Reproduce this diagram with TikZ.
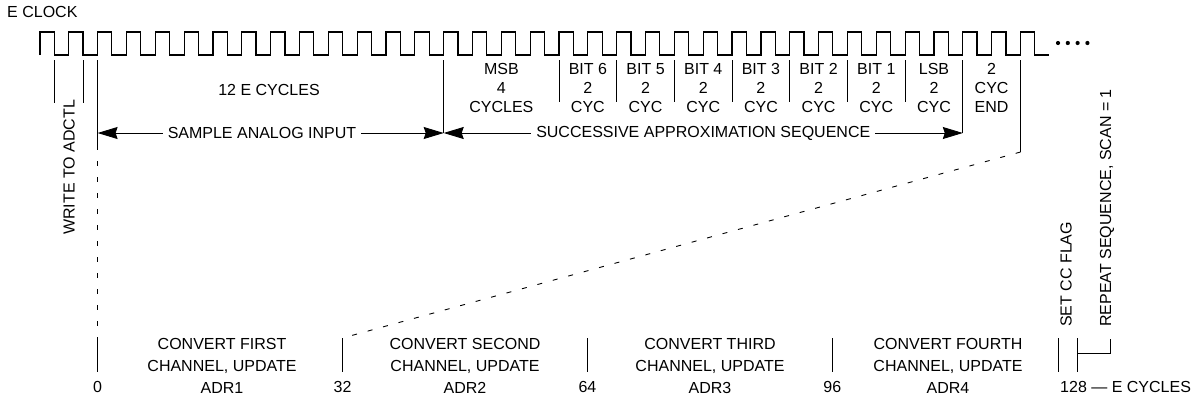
\documentclass[tikz,border=0pt]{standalone}
\usepackage{fontspec}
\setmainfont{Liberation Sans}
\usetikzlibrary{positioning, arrows.meta, calc}
\tikzset{
  clockline/.style ={line width=1.2pt, line join=miter},
  tick/.style      ={line width=0.9pt},
  guide/.style     ={line width=0.9pt, dash pattern=on 5pt off 11pt},
  dimarrow/.style  ={line width=0.9pt,
                     {Stealth[length=20pt, width=12pt, inset=2pt]}-{Stealth[length=20pt, width=12pt, inset=2pt]}},
  lbl/.style       ={align=center, inner sep=0pt, font=\fontsize{16}{19}\selectfont},
  botlbl/.style    ={align=center, inner sep=0pt, font=\fontsize{16}{22}\selectfont},
  sidelbl/.style   ={rotate=90, anchor=west, inner sep=0pt, font=\fontsize{16}{19}\selectfont},
  gapfill/.style   ={fill=white, inner xsep=5pt, inner ysep=2pt, font=\fontsize{16}{19}\selectfont},
}
\newcommand{\cycbody}[3]{#1\\#2\\#3}

\begin{document}
\begin{tikzpicture}[x=1pt, y=-1pt]
  \useasboundingbox (0,0) rectangle (1198,400);

  % ============================================================
  % E CLOCK waveform (35 pulses + continuation dots)
  % ============================================================
  \node[lbl, anchor=west] (eclk) at (7,12) {E CLOCK};
  \coordinate (clk0) at (39.9,55);
  \draw[clockline] (clk0)
    \foreach \k in {0,...,34} {-- ++(0,-23) -- ++(14.3,0) -- ++(0,23) -- ++(14.54,0)};
  \foreach \d in {0,...,3} \fill (1058+9.8*\d,43) circle (2.1pt);

  % --- write to ADCTL ---
  \coordinate (w1t) at (54.3,60);
  \coordinate (w1b) at (54.3,103);
  \coordinate (w2t) at (83.3,60);
  \coordinate (w2b) at (83.3,103);
  \draw[tick] (w1t) -- (w1b);
  \draw[tick] (w2t) -- (w2b);
  \node[sidelbl] (wadctl) at (69,235) {WRITE TO ADCTL};

  % ============================================================
  % MARKERS under the clock
  % ============================================================
  \coordinate (s0t)  at (97.6,60);
  \coordinate (samp) at (97.6,133);
  \coordinate (s0m)  at (97.6,145);
  \coordinate (c0t)  at (97.6,337);
  \coordinate (c0b)  at (97.6,372);
  \coordinate (msbt) at (443.7,60);
  \coordinate (msbb) at (443.7,133);
  \coordinate (lsbt) at (962.8,60);
  \coordinate (lsbb) at (962.8,133);
  \coordinate (endt) at (1020.5,60);
  \coordinate (endb) at (1020.5,152);

  \draw[tick]  (s0t) -- (s0m);
  \draw[guide] (s0m) -- (c0t);
  \draw[tick]  (c0t) -- (c0b);
  \draw[tick]  (msbt) -- (msbb);
  \draw[tick]  (lsbt) -- (lsbb);
  \draw[tick]  (endt) -- (endb);

  \node[lbl] (cyc12) at (269,90) {12 E CYCLES};
  \node[lbl] (msb) at (501.4,88) {\cycbody{MSB}{4}{CYCLES}};
  \foreach \bname [count=\i from 0] in {BIT 6, BIT 5, BIT 4, BIT 3, BIT 2, BIT 1, LSB} {
    \pgfmathsetmacro{\xa}{97.6+(16+2*\i)*28.84}
    \coordinate (sept\i) at (\xa,60);
    \coordinate (sepb\i) at (\xa,102);
    \draw[tick] (sept\i) -- (sepb\i);
    \node[lbl] (bit\i) at (\xa+28.84,88) {\cycbody{\bname}{2}{CYC}};
  }
  \node[lbl] (endl) at (991.6,88) {\cycbody{2}{CYC}{END}};

  \draw[dimarrow] (samp) -- node[gapfill, pos=0.475] (sampl) {SAMPLE ANALOG INPUT} (msbb);
  \draw[dimarrow] (msbb) -- node[gapfill] (sarl) {SUCCESSIVE APPROXIMATION SEQUENCE} (lsbb);

  % ============================================================
  % BOTTOM SCALE (E cycles 0 ... 128)
  % ============================================================
  \node[lbl] (num0) at (97.6,387) {0};
  \foreach \n/\cnt in {1/32, 2/64, 3/96} {
    \coordinate (ct\n) at (97.6+\n*244.9,338);
    \coordinate (cb\n) at (97.6+\n*244.9,372);
    \draw[tick] (ct\n) -- (cb\n);
    \node[lbl] (num\n) at (97.6+\n*244.9,387) {\cnt};
  }
  \draw[guide] (endb) -- (ct1);

  \node[botlbl] (conv1) at (222,366) {CONVERT FIRST\\CHANNEL, UPDATE\\ADR1};
  \node[botlbl] (conv2) at (465,366) {CONVERT SECOND\\CHANNEL, UPDATE\\ADR2};
  \node[botlbl] (conv3) at (710,366) {CONVERT THIRD\\CHANNEL, UPDATE\\ADR3};
  \node[botlbl] (conv4) at (948,366) {CONVERT FOURTH\\CHANNEL, UPDATE\\ADR4};

  % --- end of sequence ---
  \coordinate (cct)   at (1058,338);
  \coordinate (ccb)   at (1058,372);
  \coordinate (c128t) at (1077.2,338);
  \coordinate (c128m) at (1077.2,353);
  \coordinate (c128b) at (1077.2,372);
  \coordinate (rptb)  at (1110.8,353);
  \coordinate (rptt)  at (1110.8,339);
  \draw[tick] (cct) -- (ccb);
  \draw[tick] (c128t) -- (c128b);
  \draw[tick] (c128m) -- (rptb) -- (rptt);
  \node[sidelbl] (setcc)  at (1066,327) {SET CC FLAG};
  \node[sidelbl] (repeat) at (1107,327) {REPEAT SEQUENCE, SCAN = 1};
  \node[lbl, anchor=west] (ecyc) at (1060,387) {128 — E CYCLES};

\end{tikzpicture}
\end{document}
